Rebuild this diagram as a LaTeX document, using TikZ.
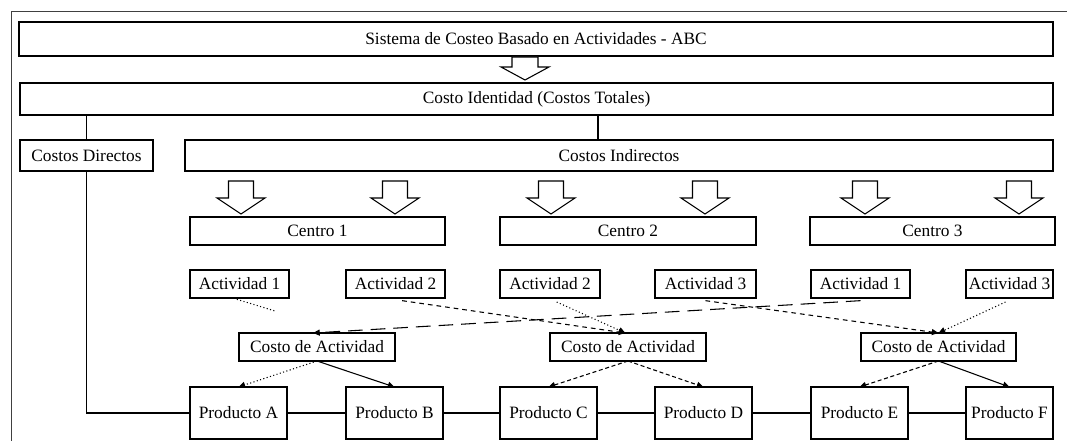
\documentclass[tikz,border=0pt]{standalone}
\usepackage{fontspec}
\setmainfont{Liberation Serif}
\usetikzlibrary{arrows.meta}
\newcommand\mybox[7]{\node[#6, minimum width={(#4-#2)*0.75pt}, minimum height={(#5-#3)*0.75pt}] (#1) at ({(#2+#4)/2},{(#3+#5)/2}) {#7};}
\tikzset{
  pics/blockarrow/.style n args={4}{code={
    \draw[line width=0.8pt, fill=white] (-#1,0) -- (#1,0) -- (#1,#3) -- (#2,#3) -- (0,#3+#4) -- (-#2,#3) -- (-#1,#3) -- cycle;
  }}
}
\begin{document}
\begin{tikzpicture}[x=0.75pt,y=-0.75pt,
  every node/.style={font=\fontsize{13}{15}\selectfont, inner sep=0pt, outer sep=0pt},
  bigbox/.style={draw, line width=1.8pt},
  midbox/.style={draw, line width=1.6pt},
  prodbox/.style={draw, line width=1pt},
  conn/.style={line width=0.8pt},
  tip/.style={-{Triangle[length=5pt,width=4.5pt]}},
  longdash/.style={dash pattern=on 11pt off 6pt},
  shortdash/.style={dash pattern=on 3.5pt off 3pt},
  dots/.style={dash pattern=on 0.8pt off 1.8pt}
]
\useasboundingbox (0,0) rectangle (1067,441);
% frame
\draw[line width=0.7pt, black!75] (11,441) -- (11,11) -- (1067,11);

% top boxes
\mybox{title}{19}{22}{1053}{56}{bigbox}{Sistema de Costeo Basado en Actividades - ABC}
\mybox{ident}{20}{83}{1053}{115}{midbox}{Costo Identidad (Costos Totales)}
\mybox{dir}{20}{140}{153}{171}{midbox}{Costos Directos}
\mybox{ind}{185}{140}{1053}{171}{midbox}{Costos Indirectos}

\pic at (525,57) {blockarrow={13}{24}{10}{13}};

% centros
\mybox{c1}{190}{217}{445}{245}{midbox}{Centro 1}
\mybox{c2}{500}{217}{756}{245}{midbox}{Centro 2}
\mybox{c3}{810}{217}{1055}{245}{midbox}{Centro 3}

\foreach \ax in {241,395,551,705,865,1019}
  \pic at (\ax,181) {blockarrow={12.5}{24}{17}{16}};

% actividades
\mybox{a11}{190}{270}{289}{298}{midbox}{Actividad 1}
\mybox{a12}{346}{270}{445}{298}{midbox}{Actividad 2}
\mybox{a22}{500}{270}{600}{298}{midbox}{Actividad 2}
\mybox{a23}{655}{270}{756}{298}{midbox}{Actividad 3}
\mybox{a31}{811}{270}{910}{298}{midbox}{Actividad 1}
\mybox{a33}{966}{270}{1053}{298}{midbox}{Actividad 3}

% costo de actividad
\mybox{cda1}{239}{333}{395}{361}{bigbox}{Costo de Actividad}
\mybox{cda2}{550}{333}{706}{361}{bigbox}{Costo de Actividad}
\mybox{cda3}{861}{333}{1016}{361}{bigbox}{Costo de Actividad}

% productos
\mybox{pA}{190}{387}{287}{439}{prodbox}{Producto A}
\mybox{pB}{346}{387}{443}{439}{prodbox}{Producto B}
\mybox{pC}{500}{387}{597}{439}{prodbox}{Producto C}
\mybox{pD}{655}{387}{752}{439}{prodbox}{Producto D}
\mybox{pE}{811}{387}{908}{439}{prodbox}{Producto E}
\mybox{pF}{966}{387}{1053}{439}{prodbox}{Producto F}

% tree connectors
\coordinate (jI) at (598,0);
\draw[conn] (dir.north) -- (dir.north |- ident.south);
\draw[line width=1.2pt] (jI |- ident.south) -- (jI |- ind.north);
\draw[conn] (dir.south) -- (dir.south |- pA.west) -- (pA.west);
\draw[conn] (pA.east) -- (pB.west);
\draw[conn] (pB.east) -- (pC.west);
\draw[conn] (pC.east) -- (pD.west);
\draw[conn] (pD.east) -- (pE.west);
\draw[conn] (pE.east) -- (pF.west);

% activity -> costo de actividad
\coordinate (stub) at (275,311);
\draw[conn, dots] ([xshift=-2pt,yshift=-1pt]a11.south) -- (stub);
\draw[conn, longdash, tip] ([yshift=-2pt]a31.south) -- ([xshift=-3pt]cda1.north);
\draw[conn, shortdash, tip] ([xshift=5pt,yshift=-2pt]a12.south) -- ([xshift=-2pt]cda2.north);
\draw[conn, dots, tip] ([xshift=5pt,yshift=-3pt]a22.south) -- ([xshift=-2pt]cda2.north);
\draw[conn, shortdash, tip] ([yshift=-2pt]a23.south) -- (cda3.north);
\draw[conn, dots, tip] ([xshift=-3pt,yshift=-3pt]a33.south) -- (cda3.north);

% costo de actividad -> productos
\draw[conn, dots, tip] (cda1.south) -- (pA.north);
\draw[conn, tip] (cda1.south) -- (pB.north);
\draw[conn, densely dashed, tip] (cda2.south) -- (pC.north);
\draw[conn, densely dashed, tip] (cda2.south) -- (pD.north);
\draw[conn, densely dashed, tip] (cda3.south) -- (pE.north);
\draw[conn, tip] (cda3.south) -- (pF.north);
\end{tikzpicture}
\end{document}
